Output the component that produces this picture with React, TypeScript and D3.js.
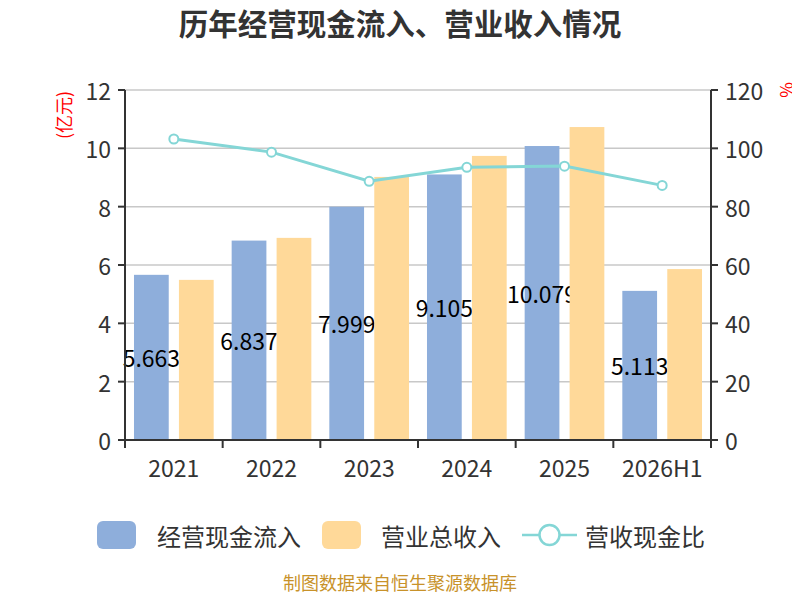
import React from 'react';
import * as d3 from 'd3';

// chart data
const categories = ['2021', '2022', '2023', '2024', '2025', '2026H1'];
const cashInflow = [5.663, 6.837, 7.999, 9.105, 10.079, 5.113];
const revenue = [5.49, 6.93, 9.02, 9.74, 10.73, 5.86];
const cashRatio = [103.2, 98.7, 88.7, 93.5, 93.9, 87.3];
const leftTicks = [0, 2, 4, 6, 8, 10, 12];
const rightTicks = [0, 20, 40, 60, 80, 100, 120];

const W = 800;
const H = 600;
const margin = { top: 90, right: 89, bottom: 160, left: 125 };
const FONT = '"Noto Sans CJK SC", "Noto Sans", sans-serif';

const BLUE = '#8eaedb';
const ORANGE = '#ffd999';
const TEAL = '#84d6d6';

const App: React.FC = () => {
  const x0 = margin.left;
  const x1 = W - margin.right;
  const y0 = H - margin.bottom;
  const y1 = margin.top;

  const x = d3.scaleBand<string>().domain(categories).range([x0, x1]);
  const inner = d3
    .scaleBand<string>()
    .domain(['cash', 'rev'])
    .range([0, x.bandwidth()])
    .paddingInner(0.227)
    .paddingOuter(0.2);
  const yL = d3.scaleLinear().domain([0, 12]).range([y0, y1]);
  const yR = d3.scaleLinear().domain([0, 120]).range([y0, y1]);

  const line = d3
    .line<number>()
    .x((_, i) => (x(categories[i]) as number) + x.bandwidth() / 2)
    .y((d) => yR(d));

  return (
    <svg width={W} height={H} style={{ display: 'block', margin: '-8px' }} fontFamily={FONT}>
      <rect width={W} height={H} fill="#fff" />
      <text x={W / 2} y={35} textAnchor="middle" fontSize={29.5} fontWeight="bold" fill="#333">
        历年经营现金流入、营业收入情况
      </text>

      {/* grid */}
      {leftTicks.map((t) => (
        <line key={'g' + t} x1={x0} x2={x1} y1={yL(t)} y2={yL(t)} stroke="#c8c8c8" strokeWidth={1.5} />
      ))}

      {/* blue bars */}
      {cashInflow.map((v, i) => (
        <rect
          key={'b' + i}
          x={(x(categories[i]) as number) + (inner('cash') as number)}
          y={yL(v)}
          width={inner.bandwidth()}
          height={y0 - yL(v)}
          fill={BLUE}
        />
      ))}
      {/* labels on blue bars (drawn under orange bars) */}
      {cashInflow.map((v, i) => (
        <text
          key={'l' + i}
          x={(x(categories[i]) as number) + (inner('cash') as number) + inner.bandwidth() / 2}
          y={(yL(v) + y0) / 2}
          textAnchor="middle"
          dominantBaseline="central"
          fontSize={23}
          fill="#000"
        >
          {v.toFixed(3)}
        </text>
      ))}
      {/* orange bars */}
      {revenue.map((v, i) => (
        <rect
          key={'o' + i}
          x={(x(categories[i]) as number) + (inner('rev') as number)}
          y={yL(v)}
          width={inner.bandwidth()}
          height={y0 - yL(v)}
          fill={ORANGE}
        />
      ))}

      {/* ratio line */}
      <path d={line(cashRatio) || ''} fill="none" stroke={TEAL} strokeWidth={3} />
      {cashRatio.map((v, i) => (
        <circle
          key={'c' + i}
          cx={(x(categories[i]) as number) + x.bandwidth() / 2}
          cy={yR(v)}
          r={4.5}
          fill="#fff"
          stroke={TEAL}
          strokeWidth={2}
        />
      ))}

      {/* left axis */}
      <line x1={x0} x2={x0} y1={y1} y2={y0 + 8} stroke="#333" strokeWidth={2} />
      {leftTicks.map((t) => (
        <g key={'lt' + t}>
          <line x1={x0 - 7} x2={x0} y1={yL(t)} y2={yL(t)} stroke="#333" strokeWidth={2} />
          <text x={x0 - 14} y={yL(t)} textAnchor="end" dominantBaseline="central" fontSize={23} fill="#333">
            {t}
          </text>
        </g>
      ))}
      {/* right axis */}
      <line x1={x1} x2={x1} y1={y1} y2={y0 + 8} stroke="#333" strokeWidth={2} />
      {rightTicks.map((t) => (
        <g key={'rt' + t}>
          <line x1={x1} x2={x1 + 7} y1={yR(t)} y2={yR(t)} stroke="#333" strokeWidth={2} />
          <text x={x1 + 14} y={yR(t)} textAnchor="start" dominantBaseline="central" fontSize={23} fill="#333">
            {t}
          </text>
        </g>
      ))}
      {/* bottom axis */}
      <line x1={x0} x2={x1} y1={y0} y2={y0} stroke="#333" strokeWidth={2} />
      {categories.map((c, i) => (
        <g key={'xt' + c}>
          {i > 0 && (
            <line
              x1={x(c) as number}
              x2={x(c) as number}
              y1={y0}
              y2={y0 + 8}
              stroke="#333"
              strokeWidth={2}
            />
          )}
          <text
            x={(x(c) as number) + x.bandwidth() / 2}
            y={y0 + 27}
            textAnchor="middle"
            dominantBaseline="central"
            fontSize={23}
            fill="#333"
          >
            {c}
          </text>
        </g>
      ))}

      {/* axis units */}
      <text
        transform={`translate(63,115) rotate(-90)`}
        textAnchor="middle"
        dominantBaseline="central"
        fontSize={18}
        fill="#ff0000"
      >
        (亿元)
      </text>
      <text
        transform={`translate(785,90) rotate(-90)`}
        textAnchor="middle"
        dominantBaseline="central"
        fontSize={17}
        fill="#ff0000"
      >
        %
      </text>

      {/* legend */}
      <rect x={97} y={521} width={39} height={28} rx={6} fill={BLUE} />
      <text x={157} y={535} dominantBaseline="central" fontSize={24} fill="#333">
        经营现金流入
      </text>
      <rect x={322} y={521} width={39} height={28} rx={6} fill={ORANGE} />
      <text x={381} y={535} dominantBaseline="central" fontSize={24} fill="#333">
        营业总收入
      </text>
      <line x1={522} x2={577} y1={535} y2={535} stroke={TEAL} strokeWidth={2.5} />
      <circle cx={549.5} cy={535} r={10} fill="#fff" stroke={TEAL} strokeWidth={2.5} />
      <text x={585} y={535} dominantBaseline="central" fontSize={24} fill="#333">
        营收现金比
      </text>

      <text x={W / 2} y={590} textAnchor="middle" fontSize={18} fill="#c8922a">
        制图数据来自恒生聚源数据库
      </text>
    </svg>
  );
};

export default App;
